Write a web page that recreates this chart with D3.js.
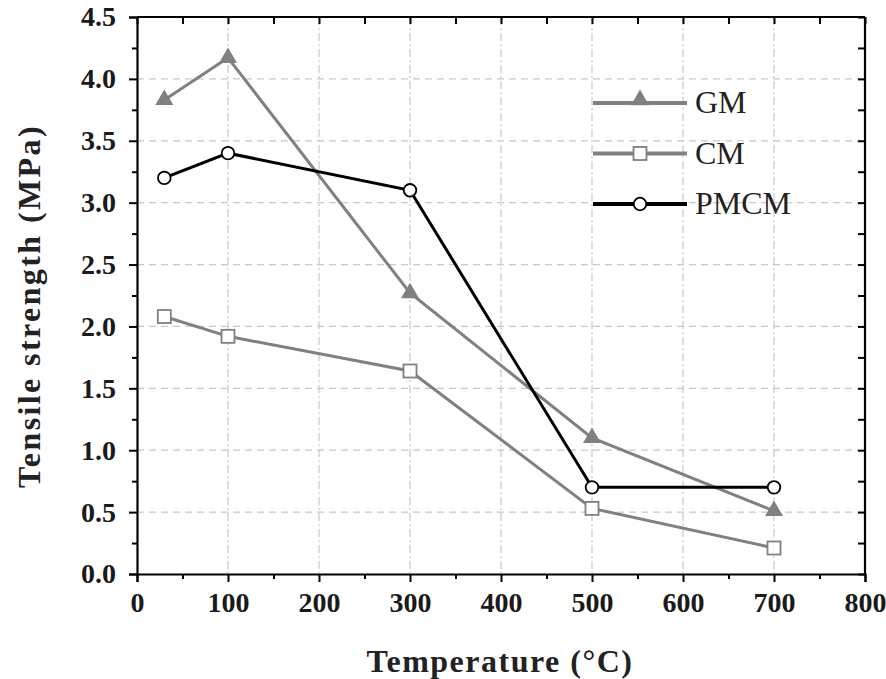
<!DOCTYPE html>
<html>
<head>
<meta charset="utf-8">
<script src="https://cdn.jsdelivr.net/npm/d3@7"></script>
<style>
  html, body { margin: 0; padding: 0; background: #fff; }
  svg { display: block; }
</style>
</head>
<body>
<svg id="chart" width="886" height="679"></svg>
<script>
// Temperatures (°C) at which the samples were tested
const temperatures = [30, 100, 300, 500, 700];
// Tensile strength (MPa) for each mix
const gmValues   = [3.83, 4.17, 2.27, 1.10, 0.51];
const cmValues   = [2.08, 1.92, 1.64, 0.53, 0.21];
const pmcmValues = [3.20, 3.40, 3.10, 0.70, 0.70];
const seriesNames = ["GM", "CM", "PMCM"];
const xTicks = [0, 100, 200, 300, 400, 500, 600, 700, 800];
const yTicks = [0, 0.5, 1.0, 1.5, 2.0, 2.5, 3.0, 3.5, 4.0, 4.5];

(function () {
const svg = d3.select("#chart");
const pLeft = 137, pRight = 865, pTop = 17, pBottom = 574;
const x = d3.scaleLinear().domain([0, 800]).range([pLeft, pRight]);
const y = d3.scaleLinear().domain([0, 4.5]).range([pBottom, pTop]);

const serif = "'Liberation Serif', 'Times New Roman', serif";
const gray = "#808080";

// grid
const grid = svg.append("g").attr("stroke", "#c8c8c8").attr("stroke-width", 1.2)
  .attr("stroke-dasharray", "7,5");
xTicks.slice(1, -1).forEach(t => {
  grid.append("line").attr("x1", x(t)).attr("x2", x(t)).attr("y1", pTop).attr("y2", pBottom)
    .attr("stroke-dasharray", "8,3,2,3");
});
yTicks.slice(1, -1).forEach(t => {
  grid.append("line").attr("x1", pLeft).attr("x2", pRight).attr("y1", y(t)).attr("y2", y(t));
});

// axes
const minorX = d3.range(0, 801, 50);
const minorY = d3.range(0, 4.51, 0.25);
const axBottom = svg.append("g").attr("transform", `translate(0,${pBottom})`)
  .call(d3.axisBottom(x).tickValues(xTicks).tickSize(8).tickPadding(10).tickFormat(d3.format("d")));
const axLeft = svg.append("g").attr("transform", `translate(${pLeft},0)`)
  .call(d3.axisLeft(y).tickValues(yTicks).tickSize(8).tickPadding(13).tickFormat(d3.format(".1f")));
const axTop = svg.append("g").attr("transform", `translate(0,${pTop})`)
  .call(d3.axisBottom(x).tickValues(minorX).tickSize(7).tickFormat(""));
const axRight = svg.append("g").attr("transform", `translate(${pRight},0)`)
  .call(d3.axisLeft(y).tickValues(minorY).tickSize(7).tickFormat(""));
const axBottomMinor = svg.append("g").attr("transform", `translate(0,${pBottom})`)
  .call(d3.axisBottom(x).tickValues(minorX.filter(v => v % 100 !== 0)).tickSize(5).tickFormat(""));
const axLeftMinor = svg.append("g").attr("transform", `translate(${pLeft},0)`)
  .call(d3.axisLeft(y).tickValues(minorY.filter(v => Math.abs(v * 2 - Math.round(v * 2)) > 0.01)).tickSize(5).tickFormat(""));

[axBottom, axLeft, axTop, axRight, axBottomMinor, axLeftMinor].forEach(a => {
  a.selectAll(".domain").attr("stroke", "#000").attr("stroke-width", 2.2);
  a.selectAll(".tick line").attr("stroke", "#000").attr("stroke-width", 2);
  a.selectAll("text").attr("fill", "#1a1a1a").style("font-family", serif)
    .style("font-size", "28px").style("font-weight", "bold");
});
axBottomMinor.select(".domain").remove();
axLeftMinor.select(".domain").remove();
axTop.select(".domain").attr("d", `M${pLeft},0H${pRight}`);
axRight.select(".domain").attr("d", `M0,${pTop}V${pBottom}`);

// axis titles
svg.append("text").attr("x", 500).attr("y", 672).attr("text-anchor", "middle")
  .style("font-family", serif).style("font-size", "32px").style("font-weight", "bold")
  .style("letter-spacing", "1.5px")
  .attr("fill", "#222").text("Temperature (°C)");
svg.append("text").attr("transform", "translate(40,306) rotate(-90)").attr("text-anchor", "middle")
  .style("font-family", serif).style("font-size", "32px").style("font-weight", "bold")
  .style("letter-spacing", "2.4px")
  .attr("fill", "#222").text("Tensile strength (MPa)");

// series
const series = [
  { name: seriesNames[0], values: gmValues, color: gray, marker: "triangle" },
  { name: seriesNames[1], values: cmValues, color: gray, marker: "square" },
  { name: seriesNames[2], values: pmcmValues, color: "#000", marker: "circle" }
];
const line = d3.line().x(d => x(d[0])).y(d => y(d[1]));

function drawMarker(g, cx, cy, s) {
  if (s.marker === "triangle") {
    g.append("path").attr("d", d3.symbol(d3.symbolTriangle, 140)())
      .attr("transform", `translate(${cx},${cy})`).attr("fill", s.color);
  } else if (s.marker === "square") {
    g.append("rect").attr("x", cx - 6.5).attr("y", cy - 6.5).attr("width", 13).attr("height", 13)
      .attr("fill", "#fff").attr("stroke", s.color).attr("stroke-width", 1.8);
  } else {
    g.append("circle").attr("cx", cx).attr("cy", cy).attr("r", 6.3)
      .attr("fill", "#fff").attr("stroke", s.color).attr("stroke-width", 1.8);
  }
}

series.forEach(s => {
  const pts = temperatures.map((t, i) => [t, s.values[i]]);
  svg.append("path").datum(pts).attr("d", line).attr("fill", "none")
    .attr("stroke", s.color).attr("stroke-width", 3);
  const g = svg.append("g");
  pts.forEach(p => drawMarker(g, x(p[0]), y(p[1]), s));
});

// legend
const legend = svg.append("g");
series.forEach((s, i) => {
  const ly = 103 + i * 50.5;
  legend.append("line").attr("x1", 593).attr("x2", 687).attr("y1", ly).attr("y2", ly)
    .attr("stroke", s.color).attr("stroke-width", 4);
  drawMarker(legend, 640, s.marker === "triangle" ? ly - 3 : ly, s);
  legend.append("text").attr("x", 695).attr("y", ly + 10).text(s.name)
    .style("font-family", serif).style("font-size", "32px").attr("fill", "#222");
});
})();
</script>
</body>
</html>
